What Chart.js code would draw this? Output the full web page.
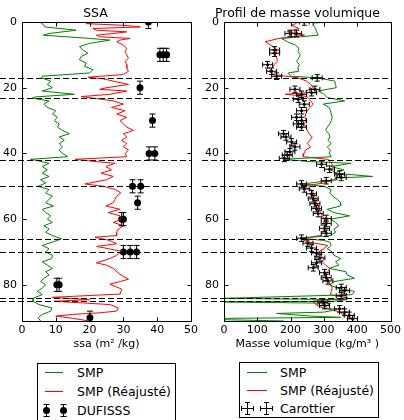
<!DOCTYPE html>
<html>
<head>
<meta charset="utf-8">
<script src="https://cdn.jsdelivr.net/npm/chart.js@4.4.1/dist/chart.umd.min.js"></script>
<style>
  body { margin: 0; width: 404px; height: 420px; position: relative; overflow: hidden; background: #fff; font-family: "DejaVu Sans", sans-serif; }
  .panneau { position: absolute; top: 0; }
  .legende { position: absolute; box-sizing: border-box; border: 1px solid #000; background: #fff; font-size: 12.5px; color: #000; }
  .legende svg { position: absolute; left: 0; top: 0; }
  .entree { position: absolute; height: 19px; line-height: 19px; white-space: nowrap; }
</style>
</head>
<body>
<canvas id="ssa" class="panneau" width="202" height="360" style="left:0"></canvas>
<canvas id="masse" class="panneau" width="202" height="360" style="left:202px"></canvas>

<div class="legende" style="left:37px;top:363px;width:139px;height:70px">
  <svg width="40" height="60">
    <line x1="7" y1="8.5" x2="25" y2="8.5" stroke="#008000" stroke-width="1"/>
    <line x1="7" y1="27.5" x2="25" y2="27.5" stroke="#ff0000" stroke-width="1"/>
    <g stroke="#000" stroke-width="1">
      <line x1="8.5" y1="40" x2="8.5" y2="53"/><line x1="5.5" y1="40.5" x2="11.5" y2="40.5"/><line x1="5.5" y1="52.5" x2="11.5" y2="52.5"/>
      <line x1="25.5" y1="40" x2="25.5" y2="53"/><line x1="22.5" y1="40.5" x2="28.5" y2="40.5"/><line x1="22.5" y1="52.5" x2="28.5" y2="52.5"/>
    </g>
    <circle cx="8.5" cy="46.5" r="3.5" fill="#000"/><circle cx="25.5" cy="46.5" r="3.5" fill="#000"/>
  </svg>
  <div class="entree" style="left:39px;top:-1px">SMP</div>
  <div class="entree" style="left:39px;top:18px">SMP (Réajusté)</div>
  <div class="entree" style="left:39px;top:37px">DUFISSS</div>
</div>

<div class="legende" style="left:239px;top:362px;width:140px;height:56px">
  <svg width="40" height="56">
    <line x1="7" y1="9.5" x2="27" y2="9.5" stroke="#008000" stroke-width="1"/>
    <line x1="7" y1="27.5" x2="27" y2="27.5" stroke="#ff0000" stroke-width="1"/>
    <g stroke="#000" stroke-width="1">
      <line x1="1" y1="45.5" x2="14" y2="45.5"/><line x1="1.5" y1="43" x2="1.5" y2="48"/><line x1="13.5" y1="43" x2="13.5" y2="48"/>
      <line x1="7.5" y1="39" x2="7.5" y2="52"/><line x1="5" y1="39.5" x2="10" y2="39.5"/><line x1="5" y1="51.5" x2="10" y2="51.5"/>
      <line x1="20" y1="45.5" x2="33" y2="45.5"/><line x1="20.5" y1="43" x2="20.5" y2="48"/><line x1="32.5" y1="43" x2="32.5" y2="48"/>
      <line x1="26.5" y1="39" x2="26.5" y2="52"/><line x1="24" y1="39.5" x2="29" y2="39.5"/><line x1="24" y1="51.5" x2="29" y2="51.5"/>
    </g>
  </svg>
  <div class="entree" style="left:40px;top:0px">SMP</div>
  <div class="entree" style="left:40px;top:18px">SMP (Réajusté)</div>
  <div class="entree" style="left:40px;top:36px">Carottier</div>
</div>

<script>
// Profondeurs (cm) des limites de couches, tracées en tirets sur les deux profils
const limitesCouches = [17, 23, 42, 50, 66, 70, 84, 85];

const graduationsProf = [0, 20, 40, 60, 80];
const graduationsSsa = [0, 10, 20, 30, 40, 50];
const graduationsMasse = [0, 100, 200, 300, 400, 500];
const profMax = 91;

// SSA mesurée au SMP (m2/kg)
const smpSsaProf = [0, 1, 1.5, 2.5, 3.5, 4, 5, 5.5, 6.5, 7.5, 8.5, 9.5, 10.5, 11.5, 12.5, 13.5, 14.5, 15.5, 16.5, 17,
  18, 19, 20, 21, 22, 22.8, 23.2, 24, 25, 26, 27, 28, 29, 30, 31, 32, 33, 34, 35, 36, 37, 38, 39, 40, 41, 41.8,
  42.3, 43, 44, 45, 46, 47, 48, 49, 50, 51, 52, 53, 54, 55, 56, 57, 58, 59, 60, 61, 62, 63, 64, 65, 66, 67, 68,
  69, 70, 71, 72, 73, 74, 75, 76, 77, 78, 79, 80, 81, 82, 83, 84, 85, 86, 87, 88, 89, 90, 91];
const smpSsa = [5.3, 6.5, 6.8, 16, 8, 6.3, 20, 26, 20, 17, 18, 19.5, 17.5, 17, 19, 18.5, 21, 20, 6, 5.8,
  8.5, 7.5, 9, 6, 15.5, 4, 3, 8, 6.5, 7.5, 10, 9, 10.5, 9.5, 11, 10.5, 12, 14, 11, 12.5, 11, 12, 11, 12, 13.5, 2.5,
  5, 8, 6, 7.5, 6, 8, 5.5, 7, 4.8, 8, 7, 9, 8, 7, 9.3, 6, 7, 8.5, 7.5, 9, 6.5, 8, 7, 9, 11.7, 9, 6,
  8, 7, 9, 8.8, 6, 7.5, 9, 7, 8, 6.5, 5.5, 7, 6, 4.5, 6, 3.4, 3.3, 5, 8.8, 8.5, 6, 4.8, 5.5];

// SSA du SMP réajustée
const rejSsaProf = [0, 0.5, 1, 1.5, 2, 2.5, 3, 3.5, 4, 4.5, 5, 5.5, 6, 7, 8, 9, 10, 11, 12, 13, 14, 15, 16, 16.8,
  17.3, 18, 19, 20, 20.5, 21, 22, 22.7, 23.3, 24, 25, 26, 27, 28, 29, 30, 31, 32, 33, 34, 35, 36, 37, 38, 39, 40,
  41, 41.8, 42.5, 43, 44, 45, 46, 47, 48, 49.3, 50, 51, 52, 53, 54, 55, 56, 57, 58, 59, 60, 61, 62, 63, 64, 65,
  65.5, 66.5, 67.5, 68.3, 69.8, 71, 72, 73.3, 74, 75, 76.8, 78.3, 79.8, 81.3, 82.8, 83.8, 84.5, 85, 85.5, 86, 87,
  88, 88.5, 89, 89.5, 90.2, 91];
const rejSsa = [22, 19, 30, 35, 21, 22, 31, 27, 22, 23, 32, 29, 28, 30, 31, 30.5, 31, 31.5, 30.5, 31, 31, 31.5, 30, 19.5,
  24, 27, 31.5, 25, 23, 31, 26, 17.5, 22, 27, 30, 26.5, 30.5, 28, 31, 29, 30, 31, 33, 30, 31, 29.5, 31, 30, 31.5, 30.5,
  31, 15.7, 22, 27.6, 24.8, 26.5, 23.4, 27, 25, 18.6, 24, 27.7, 29.2, 28, 27.5, 27, 24.8, 29, 25.5, 29, 29.5, 27, 30, 28.5, 28, 28,
  21.6, 26, 28, 22.1, 29.5, 28, 26, 22, 25, 27, 29, 31.5, 26, 29.5, 29, 8.9, 20, 9.5, 18, 26, 28.5,
  28, 23, 15, 10, 15, 20];

// SSA DUFISSS (points avec barre d'erreur en profondeur)
const dufProf = [0, 10, 10, 10, 20, 30, 40, 40, 50, 50, 55, 60, 60, 70, 70, 70, 80, 80, 90];
const dufSsa = [37.4, 40.8, 41.8, 42.8, 34.9, 38.6, 37.6, 39.3, 32.7, 35.1, 34.2, 29.5, 30, 30, 32, 33.9, 10.3, 11, 20.1];
const dufErrProf = 2;

// Masse volumique SMP (kg/m3)
const smpMasseProf = [0, 0.3, 1, 2, 3, 4, 4.5, 5, 6, 7, 8, 9, 10, 11, 12, 13, 14, 15, 15.5, 16.5, 17, 18, 19, 20,
  21, 22, 23, 24, 25, 26, 27, 28, 29, 30, 31, 32, 33, 34, 35, 36, 37, 38, 39, 40, 41, 41.8, 42.5, 43, 44, 45, 46,
  47, 47.5, 48, 49.3, 50, 51, 52, 53, 54, 55, 56, 57, 58, 59, 60, 61, 62, 63, 64, 65, 65.8, 66.5, 67, 68, 69, 70,
  71, 72, 73, 74, 75, 76, 77, 78, 79, 80, 81, 82, 83, 84.1, 84.5, 85, 85.2, 85.6, 86, 87, 87.5, 88.3, 88.7, 89.5,
  89.9, 90.2, 90.6, 91];
const smpMasse = [321, 268, 268, 275, 278, 283, 230, 173, 190, 214, 225, 222, 229, 224, 218, 226, 222, 224, 193, 200, 283, 332, 335, 337,
  283, 300, 310, 362, 298, 315, 320, 322, 325, 322, 318, 310, 305, 315, 318, 312, 322, 310, 320, 316, 322, 178, 260, 381, 322, 360, 330,
  446, 333, 340, 235, 300, 322, 318, 326, 340, 351, 350, 310, 330, 377, 320, 335, 345, 330, 335, 320, 232, 300, 318, 322, 310, 325,
  330, 351, 335, 345, 316, 366, 370, 392, 330, 318, 340, 392, 385, 0, 370, 330, 0, 320, 315, 300, 340, 300, 158, 260,
  350, 0, 0, 180];

// Masse volumique SMP réajustée
const rejMasseProf = [0, 0.5, 1, 2, 3, 3.5, 4, 4.5, 5, 6, 7, 8, 9, 10, 11, 12, 13, 14, 15, 16, 16.5, 17, 18, 19, 20,
  21, 21.5, 22, 22.5, 23, 24, 25, 26, 27, 28, 29, 30, 31, 32, 33, 34, 35, 36, 37, 38, 39, 40, 41, 41.8, 43, 44, 45,
  46, 47, 48, 49, 50, 51, 52, 53, 54, 55, 56, 57, 58, 59, 60, 61, 62, 63, 64, 65, 65.8, 66.5, 67, 68, 69, 70, 71,
  72, 73, 74, 75, 76, 77, 78, 79, 80, 81, 82, 83, 84, 85, 86, 87, 88, 89, 90, 91];
const rejMasse = [223, 215, 203, 225, 190, 215, 242, 200, 165, 124, 139, 155, 158, 154, 159, 160, 150, 145, 134, 150, 185, 223, 248, 260, 268,
  245, 250, 184, 240, 253, 260, 268, 258, 250, 245, 243, 248, 240, 245, 250, 255, 265, 258, 250, 260, 245, 240, 238, 313, 322, 330, 320,
  338, 342, 330, 300, 233, 262, 268, 272, 280, 278, 283, 285, 290, 295, 302, 300, 305, 302, 298, 290, 237, 240, 255, 312, 300, 283, 290,
  300, 295, 305, 318, 312, 305, 310, 315, 320, 325, 322, 320, 372, 268, 275, 297, 340, 360, 381, 392];

// Carottier : masse volumique avec barres d'erreur sur les deux axes
const carProf = [0, 3.5, 3.5, 8.5, 9.5, 13, 15, 16.5, 17, 20.5, 20.5, 21.5, 22, 23.5, 25, 27, 29, 30, 31, 32, 34, 35,
  36.5, 38, 39.5, 40.5, 41.5, 43.3, 44.8, 46.3, 47.3, 48.3, 49.3, 50.8, 52.3, 53.8, 55.3, 56.8, 58.3, 59.8, 61.3,
  62.8, 64.3, 65.8, 67.3, 68.8, 70.3, 71.8, 73.3, 74.8, 76.3, 77.8, 78.8, 80.8, 81.8, 83.3, 85.3, 86.3, 87.3, 88.3,
  89.3, 90.3];
const carMasse = [241, 198, 218, 152, 152, 131, 143, 158, 280, 213, 273, 263, 233, 223, 241, 233, 218, 233, 223, 233, 179, 186,
  203, 213, 198, 190, 181, 293, 317, 347, 352, 307, 233, 241, 263, 268, 273, 278, 283, 307, 307,
  302, 307, 233, 252, 263, 278, 288, 278, 268, 302, 307, 312, 352, 362, 352, 297, 302, 347, 362,
  376, 386];
const carErrMasse = 15;
const carErrProf = 1;

const VERT = '#008000';
const ROUGE = '#ff0000';
const POLICE = '"DejaVu Sans", sans-serif';

function points(prof, vals) {
  return prof.map((p, i) => ({ x: vals[i], y: p }));
}

function courbe(prof, vals, couleur) {
  return {
    data: points(prof, vals),
    showLine: true,
    borderColor: couleur,
    borderWidth: 1,
    pointRadius: 0,
    clip: 0,
  };
}

// barres d'erreur, cadre, graduations intérieures et limites de couches
const habillage = {
  id: 'habillage',
  afterDatasetsDraw(chart) {
    const { ctx, chartArea: a, scales: { x, y } } = chart;
    ctx.save();
    ctx.beginPath();
    ctx.rect(a.left, a.top, a.right - a.left, a.bottom - a.top);
    ctx.clip();
    ctx.strokeStyle = '#000';
    ctx.lineWidth = 1;
    chart.data.datasets.forEach(ds => {
      if (!ds.errX && !ds.errY) return;
      const cap = ds.cap;
      ds.data.forEach(pt => {
        const px = x.getPixelForValue(pt.x);
        const py = y.getPixelForValue(pt.y);
        ctx.beginPath();
        if (ds.errY) {
          const y0 = y.getPixelForValue(pt.y - ds.errY);
          const y1 = y.getPixelForValue(pt.y + ds.errY);
          ctx.moveTo(px, y0); ctx.lineTo(px, y1);
          ctx.moveTo(px - cap, y0); ctx.lineTo(px + cap, y0);
          ctx.moveTo(px - cap, y1); ctx.lineTo(px + cap, y1);
        }
        if (ds.errX) {
          const x0 = x.getPixelForValue(pt.x - ds.errX);
          const x1 = x.getPixelForValue(pt.x + ds.errX);
          ctx.moveTo(x0, py); ctx.lineTo(x1, py);
          ctx.moveTo(x0, py - cap); ctx.lineTo(x0, py + cap);
          ctx.moveTo(x1, py - cap); ctx.lineTo(x1, py + cap);
        }
        ctx.stroke();
      });
    });
    ctx.restore();

    ctx.save();
    ctx.strokeStyle = '#000';
    ctx.lineWidth = 1;
    ctx.setLineDash([6, 3]);
    limitesCouches.forEach(p => {
      const py = Math.round(y.getPixelForValue(p)) + 0.5;
      ctx.beginPath();
      ctx.moveTo(0, py);
      ctx.lineTo(a.right, py);
      ctx.stroke();
    });
    ctx.setLineDash([]);
    const L = Math.round(a.left) + 0.5, R = Math.round(a.right) + 0.5;
    const T = Math.round(a.top) + 0.5, B = Math.round(a.bottom) + 0.5;
    ctx.strokeRect(L, T, R - L, B - T);
    ctx.beginPath();
    x.ticks.forEach(t => {
      const px = Math.round(x.getPixelForValue(t.value)) + 0.5;
      ctx.moveTo(px, T); ctx.lineTo(px, T + 4);
      ctx.moveTo(px, B); ctx.lineTo(px, B - 4);
    });
    y.ticks.forEach(t => {
      const py = Math.round(y.getPixelForValue(t.value)) + 0.5;
      ctx.moveTo(L, py); ctx.lineTo(L + 4, py);
      ctx.moveTo(R, py); ctx.lineTo(R - 4, py);
    });
    ctx.stroke();
    ctx.restore();
  }
};

function panneau(id, titre, titreX, graduationsX, datasets) {
  const police = { family: POLICE, size: 11 };
  return new Chart(document.getElementById(id), {
    type: 'scatter',
    data: { datasets },
    plugins: [habillage],
    options: {
      responsive: false,
      animation: false,
      layout: { padding: { left: 0, right: 11, top: 0, bottom: 0 } },
      plugins: {
        legend: { display: false },
        tooltip: { enabled: false },
        title: { display: true, text: titre, color: '#000', font: { family: POLICE, size: 12.5, weight: 'normal' }, padding: { top: 6, bottom: 1 } },
      },
      scales: {
        x: {
          type: 'linear',
          min: graduationsX[0],
          max: graduationsX[graduationsX.length - 1],
          afterBuildTicks: s => { s.ticks = graduationsX.map(v => ({ value: v })); },
          ticks: { color: '#000', font: police, padding: 3, maxRotation: 0 },
          grid: { display: false, drawTicks: false },
          border: { display: false },
          title: { display: true, text: titreX, color: '#000', font: police, padding: { top: 0, bottom: 9 } },
          afterFit: s => { s.height = 39; },
        },
        y: {
          type: 'linear',
          reverse: true,
          min: 0,
          max: profMax,
          afterBuildTicks: s => { s.ticks = graduationsProf.map(v => ({ value: v })); },
          ticks: { color: '#000', font: police, padding: 5 },
          grid: { display: false, drawTicks: false },
          border: { display: false },
          afterFit: s => { s.width = 22; },
        },
      },
    },
  });
}

panneau('ssa', 'SSA', 'ssa (m² /kg)', graduationsSsa, [
  courbe(smpSsaProf, smpSsa, VERT),
  courbe(rejSsaProf, rejSsa, ROUGE),
  {
    data: points(dufProf, dufSsa),
    pointRadius: 3.5,
    pointBackgroundColor: '#000',
    pointBorderWidth: 0,
    errY: dufErrProf,
    cap: 3,
    clip: 0,
  },
]);

panneau('masse', 'Profil de masse volumique', 'Masse volumique (kg/m³ )', graduationsMasse, [
  courbe(smpMasseProf, smpMasse, VERT),
  courbe(rejMasseProf, rejMasse, ROUGE),
  {
    data: points(carProf, carMasse),
    pointRadius: 1.5,
    pointBackgroundColor: '#000',
    pointBorderWidth: 0,
    errX: carErrMasse,
    errY: carErrProf,
    cap: 2.5,
    clip: 0,
  },
]);
</script>
</body>
</html>
